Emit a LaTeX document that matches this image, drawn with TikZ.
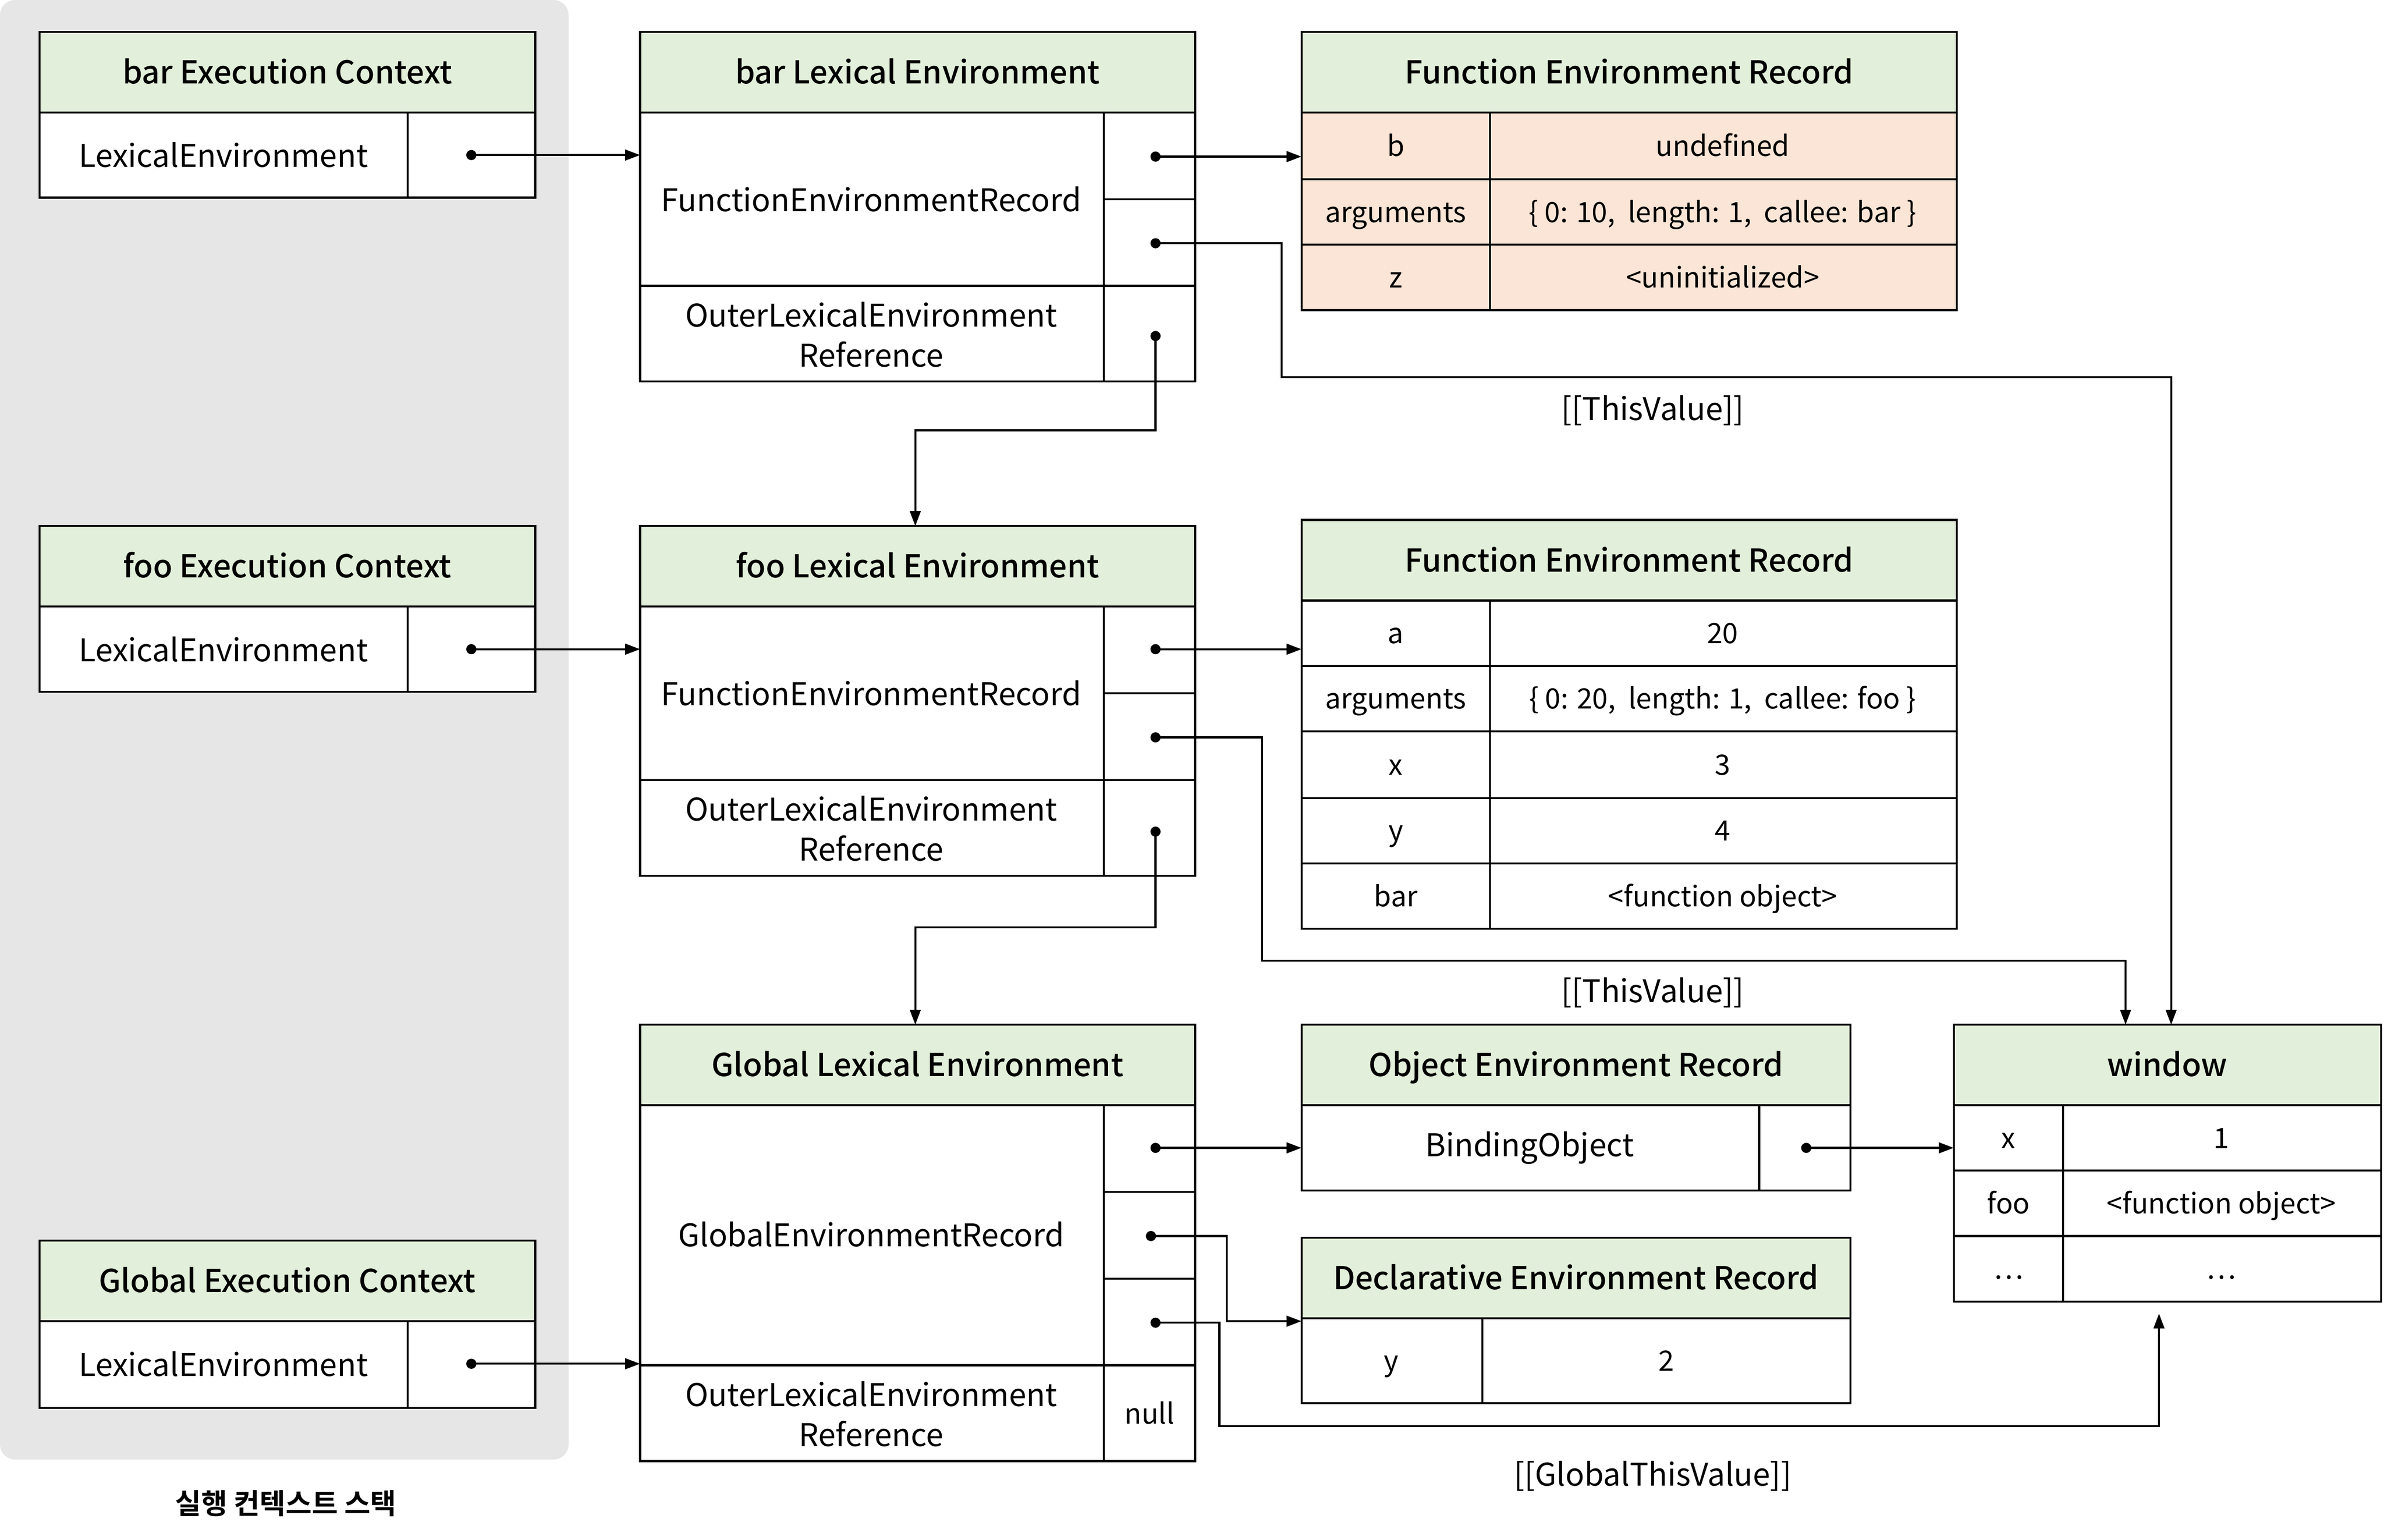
\documentclass[tikz,border=0pt]{standalone}
\usepackage{fontspec}
\setmainfont{Noto Sans CJK KR}[BoldFont={Noto Sans CJK KR Medium}]
\newfontfamily\stackfont{Noto Sans CJK KR Bold}
\usetikzlibrary{arrows.meta}
\definecolor{hdrgreen}{HTML}{E2EFDA}
\definecolor{recpeach}{HTML}{FBE5D6}
\definecolor{stackgray}{HTML}{E6E6E6}
\begin{document}
\begin{tikzpicture}[x=0.02cm,y=-0.02cm,
  box/.style={draw,line width=0.75pt,fill=white},
  hdr/.style={box,fill=hdrgreen},
  hdrtext/.style={font=\fontsize{11.8}{14}\selectfont\bfseries,text height=8.6pt,text depth=0pt},
  txt/.style={font=\fontsize{11.7}{15}\selectfont,align=center},
  celltext/.style={font=\fontsize{10.5}{12}\selectfont,text height=7.6pt,text depth=0pt},
  link/.style={line width=0.75pt,-{Triangle[length=5.6pt,width=4pt]}},
  dotnode/.style={circle,fill,inner sep=0pt,minimum size=3.8pt}]
\useasboundingbox (0,0) rectangle (1568,1012.7);
% execution context stack
\fill[stackgray,rounded corners=5.7pt] (0,0) rectangle (374,960);
\node[font=\fontsize{10.6}{12}\selectfont\stackfont] (stack) at (188,989) {실행 컨텍스트 스택};

% execution contexts
\draw[hdr] (26,21) rectangle (352,74);
\draw[box] (26,74) rectangle (352,130);
\draw[box] (268,74) -- (268,130);
\node[hdrtext] (barEC) at (189,47.5) {bar Execution Context};
\node[txt] (barECle) at (147,102) {LexicalEnvironment};
\node[dotnode] (barECd) at (310,102) {};

\draw[hdr] (26,346) rectangle (352,399);
\draw[box] (26,399) rectangle (352,455);
\draw[box] (268,399) -- (268,455);
\node[hdrtext] (fooEC) at (189,372.5) {foo Execution Context};
\node[txt] (fooECle) at (147,427) {LexicalEnvironment};
\node[dotnode] (fooECd) at (310,427) {};

\draw[hdr] (26,816) rectangle (352,869);
\draw[box] (26,869) rectangle (352,926);
\draw[box] (268,869) -- (268,926);
\node[hdrtext] (globEC) at (189,842.5) {Global Execution Context};
\node[txt] (globECle) at (147,897) {LexicalEnvironment};
\node[dotnode] (globECd) at (310,897) {};

% bar lexical environment
\draw[hdr] (421,21) coordinate (barLE) rectangle (786,74);
\draw[box] (421,74) rectangle (786,251);
\draw[box] (421,188) -- (786,188) (726,74) -- (726,251) (726,131) -- (786,131);
\node[hdrtext] (barLEt) at (603.5,47.5) {bar Lexical Environment};
\node[txt] (barLEfer) at (573,131) {FunctionEnvironmentRecord};
\node[txt] (barLEout) at (573,220) {OuterLexicalEnvironment\\Reference};
\node[dotnode] (barLEd1) at (760,103) {};
\node[dotnode] (barLEd2) at (760,160) {};
\node[dotnode] (barLEd3) at (760,221) {};

% foo lexical environment
\draw[hdr] (421,346) coordinate (fooLE) rectangle (786,399);
\draw[box] (421,399) rectangle (786,576);
\draw[box] (421,513) -- (786,513) (726,399) -- (726,576) (726,456) -- (786,456);
\node[hdrtext] (fooLEt) at (603.5,372.5) {foo Lexical Environment};
\node[txt] (fooLEfer) at (573,456) {FunctionEnvironmentRecord};
\node[txt] (fooLEout) at (573,545) {OuterLexicalEnvironment\\Reference};
\node[dotnode] (fooLEd1) at (760,427) {};
\node[dotnode] (fooLEd2) at (760,485) {};
\node[dotnode] (fooLEd3) at (760,547) {};

% global lexical environment
\draw[hdr] (421,674) coordinate (globLE) rectangle (786,727);
\draw[box] (421,727) rectangle (786,961);
\draw[box] (421,898) -- (786,898) (726,727) -- (726,961) (726,784) -- (786,784) (726,841) -- (786,841);
\node[hdrtext] (globLEt) at (603.5,700.5) {Global Lexical Environment};
\node[txt] (globLEger) at (573,812) {GlobalEnvironmentRecord};
\node[txt] (globLEout) at (573,930) {OuterLexicalEnvironment\\Reference};
\node[celltext] (globLEnull) at (756,930) {null};
\node[dotnode] (globLEd1) at (760,755) {};
\node[dotnode] (globLEd2) at (757,813) {};
\node[dotnode] (globLEd3) at (760,870) {};

% bar function environment record
\draw[hdr] (856,21) coordinate (barFER) rectangle (1287,74);
\draw[box,fill=recpeach] (856,74) rectangle (1287,204);
\draw[box] (856,118) -- (1287,118) (856,161) -- (1287,161) (980,74) -- (980,204);
\node[hdrtext] (barFERt) at (1071.5,47.5) {Function Environment Record};
\node[celltext] (barFERb) at (918,96) {b};
\node[celltext] (barFERbv) at (1133,96) {undefined};
\node[celltext] (barFERa) at (918,139.5) {arguments};
\node[celltext] (barFERav) at (1133,139.5) {\{ 0: 10,\ \ length: 1,\ \ callee: bar \}};
\node[celltext] (barFERz) at (918,182.5) {z};
\node[celltext] (barFERzv) at (1133,182.5) {<uninitialized>};

% foo function environment record
\draw[hdr] (856,342) coordinate (fooFER) rectangle (1287,395);
\draw[box] (856,395) rectangle (1287,611);
\draw[box] (856,438) -- (1287,438) (856,481) -- (1287,481) (856,525) -- (1287,525)
  (856,568) -- (1287,568) (980,395) -- (980,611);
\node[hdrtext] (fooFERt) at (1071.5,368.5) {Function Environment Record};
\node[celltext] (fooFERa) at (918,416.5) {a};
\node[celltext] (fooFERav) at (1133,416.5) {20};
\node[celltext] (fooFERarg) at (918,459.5) {arguments};
\node[celltext] (fooFERargv) at (1133,459.5) {\{ 0: 20,\ \ length: 1,\ \ callee: foo \}};
\node[celltext] (fooFERx) at (918,503) {x};
\node[celltext] (fooFERxv) at (1133,503) {3};
\node[celltext] (fooFERy) at (918,546.5) {y};
\node[celltext] (fooFERyv) at (1133,546.5) {4};
\node[celltext] (fooFERbar) at (918,589.5) {bar};
\node[celltext] (fooFERbarv) at (1133,589.5) {<function object>};

% object environment record
\draw[hdr] (856,674) coordinate (objER) rectangle (1217,727);
\draw[box] (856,727) rectangle (1217,783);
\draw[box] (1157,727) -- (1157,783);
\node[hdrtext] (objERt) at (1036.5,700.5) {Object Environment Record};
\node[txt] (objERbo) at (1006,755) {BindingObject};
\node[dotnode] (objERd) at (1188,755) {};

% declarative environment record
\draw[hdr] (856,814) coordinate (declER) rectangle (1217,867);
\draw[box] (856,867) rectangle (1217,923);
\draw[box] (975,867) -- (975,923);
\node[hdrtext] (declERt) at (1036.5,840.5) {Declarative Environment Record};
\node[celltext] (declERy) at (915,895) {y};
\node[celltext] (declERyv) at (1096,895) {2};

% window
\draw[hdr] (1285,674) coordinate (win) rectangle (1566,727);
\draw[box] (1285,727) rectangle (1566,856) coordinate (winbot);
\draw[box] (1285,770) -- (1566,770) (1285,813) -- (1566,813) (1357,727) -- (1357,856);
\node[hdrtext] (wint) at (1425.5,700.5) {window};
\node[celltext] (winx) at (1321,748.5) {x};
\node[celltext] (winxv) at (1461,748.5) {1};
\node[celltext] (winfoo) at (1321,791.5) {foo};
\node[celltext] (winfoov) at (1461,791.5) {<function object>};
\node[celltext] (windots) at (1321,834.5) {…};
\node[celltext] (windotsv) at (1461,834.5) {…};

% links
\draw[link] (barECd.center) -- (barLE |- barECd);
\draw[link] (fooECd.center) -- (fooLE |- fooECd);
\draw[link] (globECd.center) -- (globLE |- globECd);
\draw[link] (barLEd1.center) -- (barFER |- barLEd1);
\draw[link] (barLEd2.center) -- (843,160) -- (843,248) -- (1428,248) -- (1428,674);
\draw[link] (barLEd3.center) -- (760,283) -- (602,283) -- (602,346);
\draw[link] (fooLEd1.center) -- (fooFER |- fooLEd1);
\draw[link] (fooLEd2.center) -- (830,485) -- (830,632) -- (1398,632) -- (1398,674);
\draw[link] (fooLEd3.center) -- (760,610) -- (602,610) -- (602,674);
\draw[link] (globLEd1.center) -- (objER |- globLEd1);
\draw[link] (globLEd2.center) -- (807,813) -- (807,869) -- (856,869);
\draw[link] (globLEd3.center) -- (802,870) -- (802,938) -- (1420,938) -- (1420,864);
\draw[link] (objERd.center) -- (win |- objERd);
\node[txt] (thisbar) at (1087,270) {[[ThisValue]]};
\node[txt] (thisfoo) at (1087,653) {[[ThisValue]]};
\node[txt] (globthis) at (1087,971) {[[GlobalThisValue]]};
\end{tikzpicture}
\end{document}
